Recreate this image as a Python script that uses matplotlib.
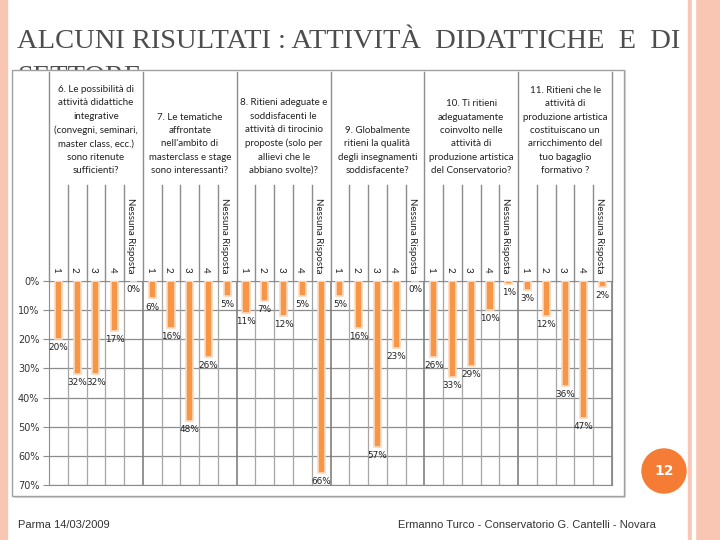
import matplotlib
matplotlib.use('Agg')
import matplotlib.pyplot as plt
from matplotlib.patches import Rectangle, Circle
from matplotlib.lines import Line2D
import matplotlib.transforms as mtransforms

# data (percent, shown downward)
questions = [
    "6. Le possibilità di\nattività didattiche\nintegrative\n(convegni, seminari,\nmaster class, ecc.)\nsono ritenute\nsufficienti?",
    "7. Le tematiche\naffrontate\nnell'ambito di\nmasterclass e stage\nsono interessanti?",
    "8. Ritieni adeguate e\nsoddisfacenti le\nattività di tirocinio\nproposte (solo per\nallievi che le\nabbiano svolte)?",
    "9. Globalmente\nritieni la qualità\ndegli insegnamenti\nsoddisfacente?",
    "10. Ti ritieni\nadeguatamente\ncoinvolto nelle\nattività di\nproduzione artistica\ndel Conservatorio?",
    "11. Ritieni che le\nattività di\nproduzione artistica\ncostituiscano un\narricchimento del\ntuo bagaglio\nformativo ?",
]
answers = ["1", "2", "3", "4", "Nessuna Risposta"]
q6 = [20, 32, 32, 17, 0]
q7 = [6, 16, 48, 26, 5]
q8 = [11, 7, 12, 5, 66]
q9 = [5, 16, 57, 23, 0]
q10 = [26, 33, 29, 10, 1]
q11 = [3, 12, 36, 47, 2]
series = [q6, q7, q8, q9, q10, q11]
yticks = [0, 10, 20, 30, 40, 50, 60, 70]

W, H = 720, 540
fig = plt.figure(figsize=(7.2, 5.4), dpi=100)
fig.patch.set_facecolor('white')


def fx(x):
    return x / W


def fy(y):
    return 1 - y / H


# slide decorations
pink = '#f8c6b3'
fig.patches.append(Rectangle((0, 0), fx(7), 1, transform=fig.transFigure, color=pink, zorder=0))
fig.patches.append(Rectangle((fx(688), 0), fx(32), 1, transform=fig.transFigure, color=pink, zorder=0))
fig.patches.append(Rectangle((fx(692), 0), fx(2.5), 1, transform=fig.transFigure, color='white', zorder=0))
fig.lines.append(Line2D([fx(702), fx(702)], [0, 1], transform=fig.transFigure, color='#e8906c', lw=1, zorder=0))

fig.text(fx(17), fy(42), "ALCUNI RISULTATI : ATTIVITÀ  DIDATTICHE  E  DI", fontsize=20.5,
         family='Liberation Serif', color='#4d4d4d', va='center', ha='left', zorder=1)
# second title line, mostly hidden behind the chart picture
fig.text(fx(17), fy(65), "SETTORE", fontsize=20.5, family='Liberation Serif', color='#4d4d4d',
         va='top', ha='left', zorder=1)

# chart picture box
fig.patches.append(Rectangle((fx(14), fy(498)), fx(612), 1 - fy(428), transform=fig.transFigure,
                             facecolor='#d9d9d9', edgecolor='none', zorder=2))
fig.patches.append(Rectangle((fx(12), fy(496)), fx(612), 1 - fy(426), transform=fig.transFigure,
                             facecolor='white', edgecolor='#a0a0a0', lw=1, zorder=3))

x0, x1, y0, y1 = 49, 612, 281, 485
ax = fig.add_axes([fx(x0), fy(y1), fx(x1 - x0), (y1 - y0) / H], zorder=5)
ax.set_facecolor('none')

values = [v for s in series for v in s]
xs = list(range(len(values)))
ax.bar(xs, values, width=0.38, color='#f79646', edgecolor='#fcd9bf', linewidth=1.2, zorder=3)
for x, v in zip(xs, values):
    ax.text(x, v + 1.4, f"{v}%", ha='center', va='top', fontsize=6.4, color='#222222', zorder=4)

ax.set_xlim(-0.5, len(values) - 0.5)
ax.set_ylim(70, 0)
ax.set_yticks(yticks)
ax.set_yticklabels([f"{t}%" for t in yticks], fontsize=7, color='#333333')
ax.tick_params(axis='y', length=4, color='#8c8c8c', pad=3)
ax.set_xticks([])
for t in yticks:
    ax.axhline(t, color='#8c8c8c', lw=0.9, zorder=1)
for i in range(len(values) + 1):
    grp = i % 5 == 0
    ax.axvline(i - 0.5, color='#808080' if grp else '#a6a6a6', lw=1.2 if grp else 0.9, zorder=1)
for sp in ax.spines.values():
    sp.set_color('#8c8c8c')

# category axis above the plot
trans = mtransforms.blended_transform_factory(ax.transData, fig.transFigure)
for i in range(len(values) + 1):
    top = 72 if i % 5 == 0 else 185
    ax.plot([i - 0.5, i - 0.5], [fy(top), fy(y0)], transform=trans, color='#8c8c8c',
            lw=1.0, clip_on=False, zorder=2)
for i, name in enumerate(answers * len(series)):
    ax.text(i - 0.15, fy(273), name, transform=trans, rotation=270, ha='center', va='bottom',
            fontsize=7, family='Lato', color='#222222', clip_on=False)
for g, q in enumerate(questions):
    ax.text(g * 5 + 2, fy(175), q, transform=trans, ha='center', va='bottom', fontsize=7,
            family='Lato', color='#222222', linespacing=1.62, clip_on=False)

# page number and footer
fig.patches.append(Circle((6.64, 5.4 - 4.71), 0.22, transform=fig.dpi_scale_trans,
                          color='#f47c34', zorder=6))
fig.text(fx(664), fy(471), "12", ha='center', va='center', fontsize=10, fontweight='bold',
         color='white', zorder=7)
fig.text(fx(18), fy(525), "Parma 14/03/2009", fontsize=8, family='Liberation Sans',
         color='#333333', va='center', ha='left')
fig.text(fx(656), fy(525), "Ermanno Turco - Conservatorio G. Cantelli - Novara", fontsize=8,
         family='Liberation Sans', color='#333333', va='center', ha='right')

plt.savefig('out.png', dpi=100)
